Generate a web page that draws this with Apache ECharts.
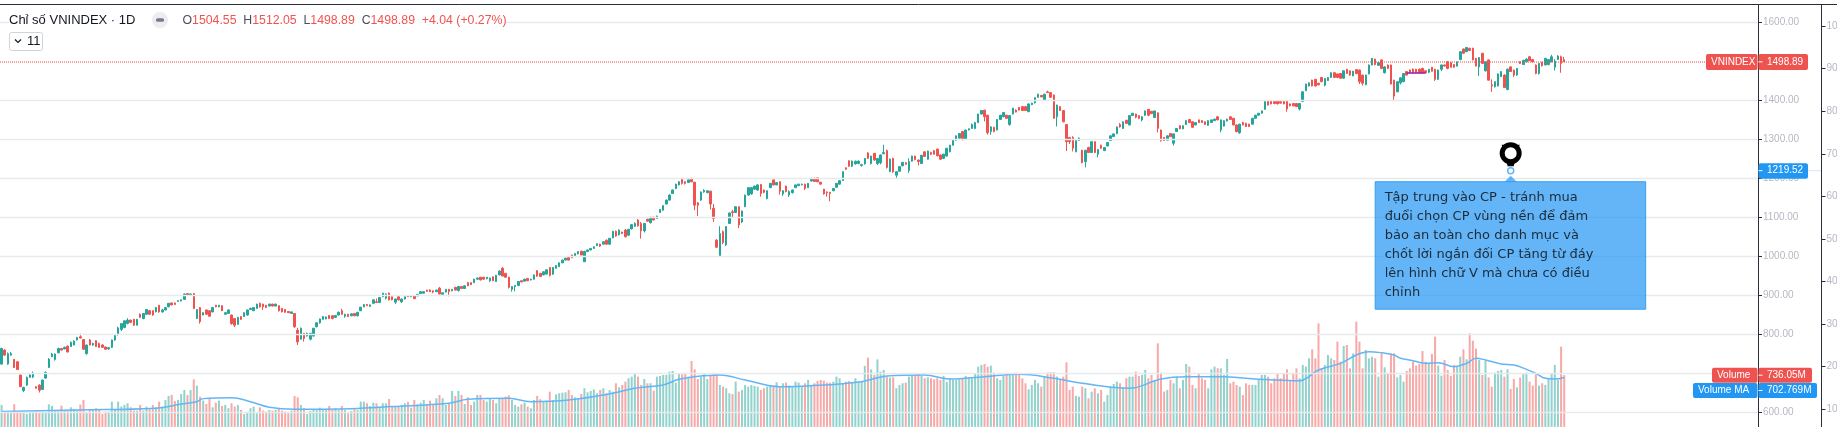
<!DOCTYPE html>
<html>
<head>
<meta charset="utf-8">
<title>Chỉ số VNINDEX</title>
<style>
  html, body { margin: 0; padding: 0; background: #fff; }
  #chart { width: 1837px; height: 427px; }
</style>
</head>
<body>
<div id="chart"></div>
<script src="https://cdn.jsdelivr.net/npm/echarts@6/dist/echarts.min.js"></script>
<script>
// daily candles, one line = 20 sessions
const opens = [
  723,759,723,746,735,729,695,655,669,689,690,665,669,658,687,714,742,735,752,763,
  762,769,768,772,785,793,786,750,785,772,783,776,772,767,762,766,785,800,812,817,
  827,836,838,823,851,840,851,860,860,857,874,857,862,870,880,880,884,885,889,904,
  900,904,840,868,849,862,860,857,874,870,873,851,853,849,840,825,845,845,849,863,
  860,866,879,877,874,872,877,872,873,866,863,858,853,853,810,787,802,795,787,795,
  819,829,838,839,848,847,843,849,860,846,851,847,853,847,860,870,876,871,879,883,
  881,896,892,905,896,882,896,883,890,899,896,899,898,904,905,913,913,911,909,918,
  902,908,915,911,920,912,922,917,932,932,932,941,946,946,942,937,947,935,952,969,
  956,946,915,922,925,937,936,943,939,941,963,956,952,954,971,954,969,973,983,990,
  997,1003,999,1006,1013,986,1012,1016,1020,1027,1031,1031,1041,1031,1047,1064,1055,1062,1067,1054,
  1070,1077,1093,1084,1065,1095,1086,1100,1097,1112,1118,1134,1144,1161,1174,1183,1200,1191,1189,1200,
  1190,1137,1144,1165,1163,1167,1123,1041,999,1063,1029,1084,1114,1112,1127,1088,1127,1157,1160,1172,
  1170,1184,1170,1148,1176,1196,1183,1191,1160,1180,1157,1163,1176,1181,1183,1185,1176,1193,1200,1201,
  1190,1172,1165,1164,1168,1177,1185,1194,1227,1245,1231,1237,1238,1233,1237,1265,1238,1264,1238,1240,
  1263,1271,1217,1251,1208,1218,1232,1240,1220,1244,1257,1247,1238,1268,1249,1266,1271,1275,1260,1251,
  1257,1268,1285,1298,1303,1320,1300,1324,1328,1328,1343,1365,1375,1362,1320,1331,1324,1351,1358,1362,
  1338,1365,1375,1382,1384,1384,1371,1389,1394,1408,1413,1401,1422,1420,1414,1358,1384,1374,1338,1305,
  1305,1268,1297,1272,1243,1279,1266,1294,1262,1285,1271,1283,1297,1307,1315,1338,1328,1349,1337,1361,
  1365,1361,1350,1362,1377,1372,1356,1368,1324,1305,1298,1315,1290,1320,1335,1327,1338,1351,1345,1337,
  1350,1348,1345,1336,1343,1348,1358,1324,1334,1347,1358,1354,1337,1317,1343,1341,1339,1339,1354,1362,
  1367,1377,1399,1398,1397,1399,1397,1398,1399,1391,1392,1392,1378,1397,1425,1437,1452,1454,1444,1459,
  1439,1451,1459,1471,1468,1469,1457,1480,1476,1463,1479,1478,1465,1440,1468,1491,1506,1490,1504,1471,
  1491,1491,1452,1422,1445,1448,1474,1478,1480,1480,1480,1482,1476,1472,1485,1480,1454,1480,1491,1499,
  1497,1492,1488,1505,1532,1525,1534,1534,1508,1486,1521,1476,1504,1440,1435,1437,1461,1465,1428,1486,
  1478,1465,1499,1492,1499,1512,1505,1491,1469,1498,1491,1492,1499,1485,1505,1512,1504.55
];
const closes = [
  763,746,750,750,714,709,665,663,689,695,700,661,656,682,702,736,749,749,763,759,
  766,754,779,782,791,790,761,772,772,776,768,766,766,761,765,785,797,816,827,834,
  836,830,823,838,843,853,863,851,849,868,857,862,868,879,875,876,886,888,903,900,
  903,866,863,832,855,851,846,868,870,874,860,855,862,827,823,843,838,855,862,866,
  868,877,870,870,868,877,872,877,860,857,856,855,857,819,780,815,789,802,802,815,
  829,839,845,844,840,840,848,856,851,851,845,852,847,856,869,876,873,875,888,881,
  894,905,903,888,888,890,888,890,896,896,899,891,902,909,909,910,909,908,913,903,
  906,915,909,915,913,922,917,924,924,927,941,944,939,941,946,944,937,951,962,949,
  946,920,922,925,935,934,941,937,941,952,949,948,960,965,951,971,976,983,990,995,
  990,996,1007,1012,1003,1012,1016,1020,1024,1032,1026,1037,1031,1046,1064,1052,1067,1058,1050,1069,
  1081,1084,1078,1065,1084,1090,1100,1093,1103,1120,1130,1144,1157,1170,1185,1191,1187,1187,1196,1191,
  1131,1131,1165,1169,1168,1134,1097,1023,1058,1035,1076,1111,1112,1127,1080,1116,1157,1176,1176,1180,
  1183,1161,1164,1168,1187,1183,1189,1167,1168,1166,1166,1170,1183,1185,1185,1174,1187,1200,1192,1191,
  1185,1160,1163,1161,1174,1187,1194,1217,1223,1231,1244,1244,1244,1235,1251,1251,1257,1247,1251,1260,
  1266,1228,1249,1217,1217,1230,1241,1236,1243,1257,1248,1243,1259,1256,1270,1262,1262,1258,1249,1262,
  1277,1285,1298,1309,1315,1300,1324,1327,1338,1343,1365,1374,1358,1317,1332,1320,1351,1362,1369,1354,
  1361,1380,1370,1375,1374,1374,1391,1393,1407,1416,1409,1416,1420,1408,1354,1388,1374,1345,1294,1294,
  1277,1297,1303,1240,1272,1266,1294,1266,1274,1277,1279,1292,1309,1314,1332,1332,1345,1341,1361,1367,
  1357,1354,1358,1373,1362,1366,1373,1328,1297,1297,1309,1307,1314,1328,1327,1335,1348,1343,1331,1343,
  1343,1343,1338,1348,1350,1352,1350,1350,1348,1352,1351,1337,1320,1339,1337,1333,1333,1354,1362,1367,
  1373,1397,1388,1391,1392,1391,1393,1391,1378,1386,1386,1384,1392,1422,1442,1445,1437,1437,1440,1448,
  1456,1459,1471,1459,1459,1457,1476,1469,1465,1475,1469,1448,1444,1465,1491,1508,1492,1497,1482,1486,
  1482,1442,1411,1448,1458,1469,1465,1471,1471,1471,1471,1471,1471,1480,1475,1454,1478,1491,1488,1482,
  1485,1485,1499,1525,1521,1536,1528,1504,1488,1510,1495,1499,1452,1437,1448,1468,1474,1433,1480,1474,
  1465,1482,1495,1503,1506,1502,1499,1469,1495,1489,1508,1505,1512,1501,1514,1495,1498.89
];
const upperWicks = [
  2,2,3,4,1,1,1,2,2,2,4,1,2,1,2,2,3,1,2,1,
  2,2,2,2,2,8,1,1,2,2,1,2,2,1,1,1,1,3,1,1,
  5,1,1,1,2,1,1,2,1,2,1,3,1,1,1,1,1,1,1,1,
  1,1,1,1,1,1,1,2,1,1,1,1,1,1,1,1,1,1,1,2,
  1,1,2,1,1,1,1,1,1,1,1,1,1,1,6,2,1,2,1,1,
  1,1,1,1,1,2,1,2,5,1,1,1,1,1,1,1,1,1,1,8,
  1,1,1,2,1,1,1,1,1,1,1,1,1,1,1,1,2,1,1,3,
  1,1,1,1,1,2,1,1,2,1,1,1,1,1,1,1,1,1,1,3,
  1,1,1,1,1,1,1,1,1,1,1,1,1,1,1,1,1,1,1,1,
  1,1,1,1,1,2,1,1,1,1,1,1,2,1,1,2,2,1,3,1,
  1,3,2,4,1,1,1,1,1,1,1,1,2,1,1,2,1,2,1,1,
  1,2,1,3,1,1,11,3,19,3,1,1,5,1,1,1,1,1,1,1,
  2,1,1,1,1,1,1,1,1,1,3,1,1,1,1,1,1,1,1,1,
  1,1,1,1,1,1,1,1,1,1,2,1,2,2,1,2,1,1,1,1,
  20,3,2,2,1,1,1,1,8,1,1,1,1,1,1,2,2,1,1,1,
  1,1,1,1,1,1,1,1,3,2,1,1,1,1,2,1,1,1,1,1,
  1,1,2,1,2,2,1,1,1,1,1,1,3,1,1,1,1,1,1,1,
  3,1,2,1,1,2,1,1,1,1,1,1,1,1,1,4,1,1,1,1,
  1,1,2,1,1,1,1,1,1,1,1,1,1,1,1,1,2,1,1,1,
  1,1,1,1,1,1,2,1,1,1,1,1,1,1,2,2,1,1,1,1,
  1,2,1,1,1,1,1,1,1,1,1,1,1,1,1,1,1,1,1,1,
  1,1,1,1,1,1,1,1,1,1,2,1,1,1,1,1,1,1,1,2,
  1,1,1,1,1,1,1,1,2,1,2,2,1,1,1,1,1,1,1,2,
  1,1,1,1,1,1,1,1,1,1,1,1,1,14,1,1,1,2,2,1,
  1,1,1,1,2,1,1,1,1,1,1,1,5,5,2,3,7.5
];
const lowerWicks = [
  1,1,2,1,1,1,1,4,2,1,3,1,6,1,1,1,1,3,1,1,
  1,1,1,1,1,1,2,3,1,2,1,1,1,2,2,2,2,4,4,2,
  2,2,2,1,1,2,2,1,2,1,2,2,1,1,1,1,1,1,1,1,
  1,2,1,5,1,2,2,1,1,1,1,1,1,3,5,1,2,1,2,1,
  1,1,2,8,1,1,1,1,2,1,1,1,1,3,8,1,8,1,3,1,
  2,2,1,1,1,2,1,1,1,4,1,1,1,2,1,1,1,1,1,1,
  1,1,3,2,1,5,2,3,1,1,1,1,1,1,1,1,1,3,1,1,
  3,1,12,1,1,3,1,1,1,1,1,1,1,1,1,3,1,1,1,1,
  1,3,6,12,2,1,1,1,1,1,2,1,1,1,3,2,1,1,1,1,
  1,1,1,1,1,1,1,1,1,1,2,1,2,2,1,2,2,1,2,2,
  1,2,2,20,4,1,2,1,1,1,1,1,1,1,2,1,3,3,1,1,
  13,28,2,2,1,14,9,1,1,4,3,1,12,1,8,3,1,2,2,1,
  2,8,3,2,1,1,1,9,5,2,5,2,1,1,1,4,1,1,1,1,
  1,2,10,20,1,1,1,1,1,1,2,2,2,3,2,1,3,2,4,4,
  1,3,1,3,9,1,1,1,6,1,2,10,1,1,1,2,1,2,2,1,
  1,1,1,1,1,3,1,1,1,2,1,1,12,5,8,2,1,1,1,1,
  3,1,1,1,1,1,1,1,2,1,1,2,1,1,1,25,1,1,24,6,
  8,1,1,1,15,1,1,1,8,1,1,1,1,1,2,2,1,1,1,1,
  3,2,4,2,3,1,1,10,3,1,1,1,6,1,1,1,1,1,2,1,
  1,1,1,1,1,1,1,6,1,1,1,1,2,3,1,1,1,1,1,1,
  1,1,1,1,2,1,1,1,7,1,1,1,4,1,1,1,1,1,1,1,
  3,1,1,1,2,1,1,1,2,1,2,6,6,1,1,1,2,1,2,2,
  1,1,10,1,4,1,1,1,1,1,1,1,1,2,1,4,1,5,1,2,
  1,1,1,2,1,1,1,1,1,23,1,2,1,15,2,1,1,1,2,1,
  5,2,1,1,1,1,1,2,3,2,1,2,1,8,1,24,0
];
// volume per session, millions
const volumes = [
  312,218,203,218,322,218,218,218,184,218,218,232,218,218,203,322,298,232,241,303,
  232,232,279,255,241,317,383,203,251,251,265,241,184,218,218,359,251,359,289,312,
  336,279,232,232,312,232,289,251,312,279,359,289,383,440,454,369,383,468,525,454,
  525,676,586,430,374,326,407,279,345,374,298,312,265,336,289,312,241,184,203,265,
  289,194,279,232,218,241,232,241,265,232,218,194,232,440,421,312,265,184,227,251,
  255,274,251,251,298,241,265,241,298,241,194,227,251,241,359,359,336,298,345,336,
  289,336,336,397,289,289,289,312,336,355,274,383,322,345,383,322,374,312,407,454,
  407,312,326,511,440,511,454,326,421,312,359,454,454,383,359,407,383,336,407,407,
  430,449,383,312,289,322,345,289,265,383,440,393,359,374,501,383,464,478,487,492,
  525,454,421,407,468,549,492,511,534,478,525,549,478,525,501,620,563,596,643,691,
  714,752,714,596,681,620,620,516,714,724,738,738,785,795,629,752,747,752,714,937,
  818,681,714,752,680,738,752,752,596,572,549,478,468,643,501,525,596,572,596,582,
  572,525,549,572,596,572,634,572,620,629,590,572,643,629,572,620,667,596,620,653,
  667,657,629,629,643,714,691,620,643,653,629,691,643,653,866,984,818,738,960,785,
  809,714,700,705,549,596,620,629,714,724,738,762,728,691,705,691,676,691,667,724,
  640,691,667,667,676,691,724,705,691,762,856,880,894,856,870,771,691,667,728,762,
  738,762,771,738,691,620,534,596,667,620,572,714,771,776,776,714,667,714,918,525,
  572,440,430,572,549,407,501,549,478,525,359,454,572,610,643,620,563,691,714,714,
  785,724,738,809,691,738,667,1187,771,501,525,667,620,714,549,667,894,856,596,549,
  762,691,667,549,818,856,832,832,738,965,620,643,596,572,454,620,596,596,596,667,
  738,738,714,620,691,762,691,762,818,667,752,832,691,880,856,974,1102,974,1471,832,
  880,1022,974,951,1211,927,1149,1164,832,1045,1495,1211,832,1093,974,998,974,714,1045,847,
  762,1045,1045,705,738,643,795,832,927,870,894,1078,927,903,1036,1282,870,728,951,809,
  728,880,856,998,1102,960,1329,1225,1112,951,738,941,705,572,771,795,809,714,818,539,
  681,563,700,761,771,643,587,752,587,620,596,681,752,880,667,1140,736.05
];
// volume moving average, read at turning points of the line
const maSessions = [0,24,49,57,62,64,73,79,85,93,111,124,142,148,161,168,180,194,201,210,215,220,228,236,247,256,273,281,293,301,312,323,334,343,358,368,376,388,395,404,412,418,425,430,434,438,442,444,448,452,456,461,465,468,471,476,480,484,487,490,493,496];
const maValues = [218,241,265,326,359,402,416,359,279,251,260,289,336,393,407,359,383,478,549,596,676,714,738,667,572,582,643,724,738,681,714,747,691,620,549,681,714,714,691,667,657,809,903,1022,1069,1054,1021,974,941,903,912,856,903,974,950,894,880,818,761,690,681,702.769];

const priceTicks = [600,700,800,900,1000,1100,1200,1300,1400,1600];
const percentTicks = [10,20,30,40,50,60,70,80,90,100];
const lastPrice = 1498.89;
const notePrice = 1219.52;
const noteSession = 479;
const noteLines = [
  'Tập trung vào CP - tránh mua',
  'đuổi chọn CP vùng nền để đảm',
  'bảo an toàn cho danh mục và',
  'chốt lời ngắn đối CP tăng từ đáy',
  'lên hình chữ V mà chưa có điều',
  'chỉnh'
];
const sessions = Array.from({ length: 558 }, (_, i) => String(i)); // room on the right stays empty

const UP = '#26a69a';
const DOWN = '#ef5350';
const BLUE = '#2196f3';
const AXIS = '#2a2e39';
const FONT = '"Liberation Sans", Arial, sans-serif';

const chart = echarts.init(document.getElementById('chart'), null, { renderer: 'canvas' });

const candles = opens.map((o, i) => [
  o, closes[i],
  Math.min(o, closes[i]) - lowerWicks[i],
  Math.max(o, closes[i]) + upperWicks[i]
]);

// grid runs past the canvas on purpose, the picture is a crop of a taller chart
const gridBox = { left: 0, width: 1758, top: -16.45, height: 467.4, outerBoundsMode: 'none' };

chart.setOption({
  animation: false,
  backgroundColor: '#fff',
  grid: gridBox,
  xAxis: { type: 'category', data: sessions, show: false, boundaryGap: true },
  yAxis: [
    {
      type: 'value', position: 'right', min: 500, max: 1700, scale: true,
      axisLine: { show: true, lineStyle: { color: AXIS, width: 1 } },
      axisTick: { show: true, length: 4, customValues: priceTicks, lineStyle: { color: AXIS } },
      axisLabel: {
        margin: 5, color: '#b5b8c2', fontSize: 10, fontFamily: FONT,
        customValues: priceTicks, formatter: v => v.toFixed(2)
      },
      splitLine: { show: false }
    },
    { type: 'value', min: -341, max: 6296, show: false, splitLine: { show: false } },
    {
      type: 'value', position: 'right', offset: 63.5, min: 0.2, max: 110,
      axisLine: { show: true, lineStyle: { color: AXIS, width: 1 } },
      axisTick: { show: true, length: 4, customValues: percentTicks, lineStyle: { color: AXIS } },
      axisLabel: {
        margin: 5, color: '#b5b8c2', fontSize: 10, fontFamily: FONT,
        customValues: percentTicks, formatter: v => v.toFixed(2)
      },
      splitLine: { show: false }
    }
  ],
  series: [
    {
      // gridlines as a marker series, the 1500 line is left out like on the original
      name: 'grid', type: 'line', data: [], z: 0, silent: true,
      markLine: {
        silent: true, symbol: ['none', 'none'], label: { show: false }, animation: false,
        lineStyle: { color: '#e8e9ec', width: 1.4, type: 'solid' },
        data: priceTicks.map(v => ({ yAxis: v }))
      }
    },
    {
      name: 'Volume', type: 'bar', yAxisIndex: 1, data: volumes, barWidth: 2, z: 1, silent: true,
      itemStyle: {
        color: p => closes[p.dataIndex] >= opens[p.dataIndex] ? 'rgba(38,166,154,0.5)' : 'rgba(239,83,80,0.5)'
      }
    },
    {
      name: 'Volume MA', type: 'line', yAxisIndex: 1, z: 2, silent: true, smooth: 0.4, showSymbol: false,
      data: maSessions.map((s, i) => [s, maValues[i]]),
      lineStyle: { color: '#64b5f6', width: 1.5 }
    },
    {
      name: 'VNINDEX', type: 'candlestick', data: candles, barWidth: 2, z: 3, silent: true,
      itemStyle: { color: UP, color0: DOWN, borderColor: UP, borderColor0: DOWN, borderWidth: 1 },
      markLine: {
        silent: true, symbol: ['none', 'none'], label: { show: false }, animation: false,
        data: [
          { yAxis: lastPrice, lineStyle: { color: 'rgba(239,83,80,0.6)', opacity: 1, type: [1, 1], width: 1.8 } },
          [
            { coord: [446, 1472], lineStyle: { color: '#9c27b0', opacity: 1, type: 'solid', width: 1.6 } },
            { coord: [452, 1472] }
          ]
        ]
      }
    }
  ]
});

// y of a price and x of a session, so the tags and the note follow the scales
const priceY = p => chart.convertToPixel({ yAxisIndex: 0 }, p);
const noteX = chart.convertToPixel({ xAxisIndex: 0 }, noteSession);
const noteY = priceY(notePrice);

function tag(left, right, y, color, name, value, top, bottom) {
  const parts = [{
    type: 'rect', z: 50,
    shape: { x: 1758.5, y: top, width: right - 1758.5, height: bottom - top, r: 2 },
    style: { fill: color }
  }, {
    type: 'text', z: 51, style: {
      x: 1767, y: y, text: value, fill: '#fff', font: '10px ' + FONT, textVerticalAlign: 'middle'
    }
  }, {
    type: 'line', z: 51, shape: { x1: 1758.5, y1: y, x2: 1762.5, y2: y },
    style: { stroke: '#fff', lineWidth: 1 }
  }];
  if (name) {
    parts.push({
      type: 'rect', z: 50,
      shape: { x: left, y: top, width: 1757.5 - left, height: bottom - top, r: 2 },
      style: { fill: color }
    }, {
      type: 'text', z: 51, style: {
        x: left + 5, y: y, text: name, fill: '#fff', font: '10px ' + FONT, textVerticalAlign: 'middle'
      }
    });
  }
  return parts;
}

const lastY = priceY(lastPrice);
const boxTop = noteY + 11;
const boxLeft = noteX - 135.5;

chart.setOption({
  graphic: [
    // white strip above the top rule
    { type: 'rect', z: 40, shape: { x: 0, y: 0, width: 1837, height: 4 }, style: { fill: '#fff' } },
    { type: 'line', z: 41, shape: { x1: 0, y1: 4.5, x2: 1837, y2: 4.5 }, style: { stroke: AXIS, lineWidth: 1 } },

    // header, the first gridline stays hidden behind it
    { type: 'rect', z: 59, shape: { x: 9, y: 12, width: 497, height: 18 }, style: { fill: 'rgba(255,255,255,0.9)' } },
    {
      type: 'text', z: 60,
      style: {
        x: 9, y: 20, text: 'Chỉ số VNINDEX · 1D', fill: '#131722', font: '13px ' + FONT,
        textVerticalAlign: 'middle'
      }
    },
    { type: 'circle', z: 60, shape: { cx: 160, cy: 20, r: 8 }, style: { fill: '#ebedf0' } },
    { type: 'rect', z: 61, shape: { x: 156, y: 18.2, width: 8, height: 3.6, r: 1.5 }, style: { fill: '#787b86' } },
    {
      type: 'text', z: 60,
      style: {
        x: 182.5, y: 21, font: '12.3px ' + FONT, textVerticalAlign: 'middle',
        text: '{k|O}{v|1504.55}  {k|H}{v|1512.05}  {k|L}{v|1498.89}  {k|C}{v|1498.89}  {v|+4.04 (+0.27%)}',
        rich: {
          k: { fill: '#4a4e5a', font: '12.3px ' + FONT },
          v: { fill: DOWN, font: '12.3px ' + FONT }
        }
      }
    },
    {
      type: 'rect', z: 60, shape: { x: 9.5, y: 32.5, width: 33, height: 18, r: 2 },
      style: { fill: '#fff', stroke: '#cfd3dc', lineWidth: 1 }
    },
    {
      type: 'polyline', z: 61, shape: { points: [[15, 39.5], [18, 42.5], [21, 39.5]] },
      style: { stroke: '#131722', lineWidth: 1.2, fill: 'none' }
    },
    {
      type: 'text', z: 61,
      style: { x: 27, y: 41, text: '11', fill: '#131722', font: '13px ' + FONT, textVerticalAlign: 'middle' }
    },

    // note on the chart
    {
      type: 'polygon', z: 30,
      shape: { points: [[noteX - 9, noteY - 26], [noteX + 9, noteY - 26], [noteX + 3, noteY - 4.5], [noteX - 3, noteY - 4.5]] },
      style: { fill: '#000' }
    },
    {
      type: 'circle', z: 31, shape: { cx: noteX, cy: noteY - 17.5, r: 8.5 },
      style: { fill: '#fff', stroke: '#000', lineWidth: 5 }
    },
    {
      type: 'circle', z: 32, shape: { cx: noteX, cy: noteY, r: 3 },
      style: { fill: '#fff', stroke: '#64b5f6', lineWidth: 1.5 }
    },
    {
      type: 'polygon', z: 30,
      shape: { points: [[noteX - 6, boxTop], [noteX, boxTop - 6], [noteX + 6, boxTop]] },
      style: { fill: 'rgba(33,150,243,0.7)' }
    },
    {
      type: 'rect', z: 30, shape: { x: boxLeft, y: boxTop, width: 270.5, height: 127.5 },
      style: { fill: 'rgba(33,150,243,0.7)', stroke: 'rgba(33,150,243,0.85)', lineWidth: 1 }
    },
    {
      type: 'text', z: 33,
      style: {
        x: boxLeft + 9.5, y: boxTop + 6.5, text: noteLines.join('\n'), fill: '#1c2b3a',
        font: '13px "DejaVu Sans", sans-serif', lineHeight: 19
      }
    },

    // price scale tags
    ...tag(1706, 1808, lastY, DOWN, 'VNINDEX', lastPrice.toFixed(2), 54, 70),
    ...tag(0, 1808, noteY, BLUE, '', notePrice.toFixed(2), noteY - 7.5, noteY + 8),
    { type: 'line', z: 20, shape: { x1: 1808, y1: noteY, x2: 1821, y2: noteY }, style: { stroke: '#cfe6fb', lineWidth: 1 } },
    ...tag(1712, 1812, 375.2, DOWN, 'Volume', '736.05M', 367.7, 382.7),
    ...tag(1693, 1817, 390.5, BLUE, 'Volume MA', '702.769M', 383, 398)
  ]
});
</script>
</body>
</html>
